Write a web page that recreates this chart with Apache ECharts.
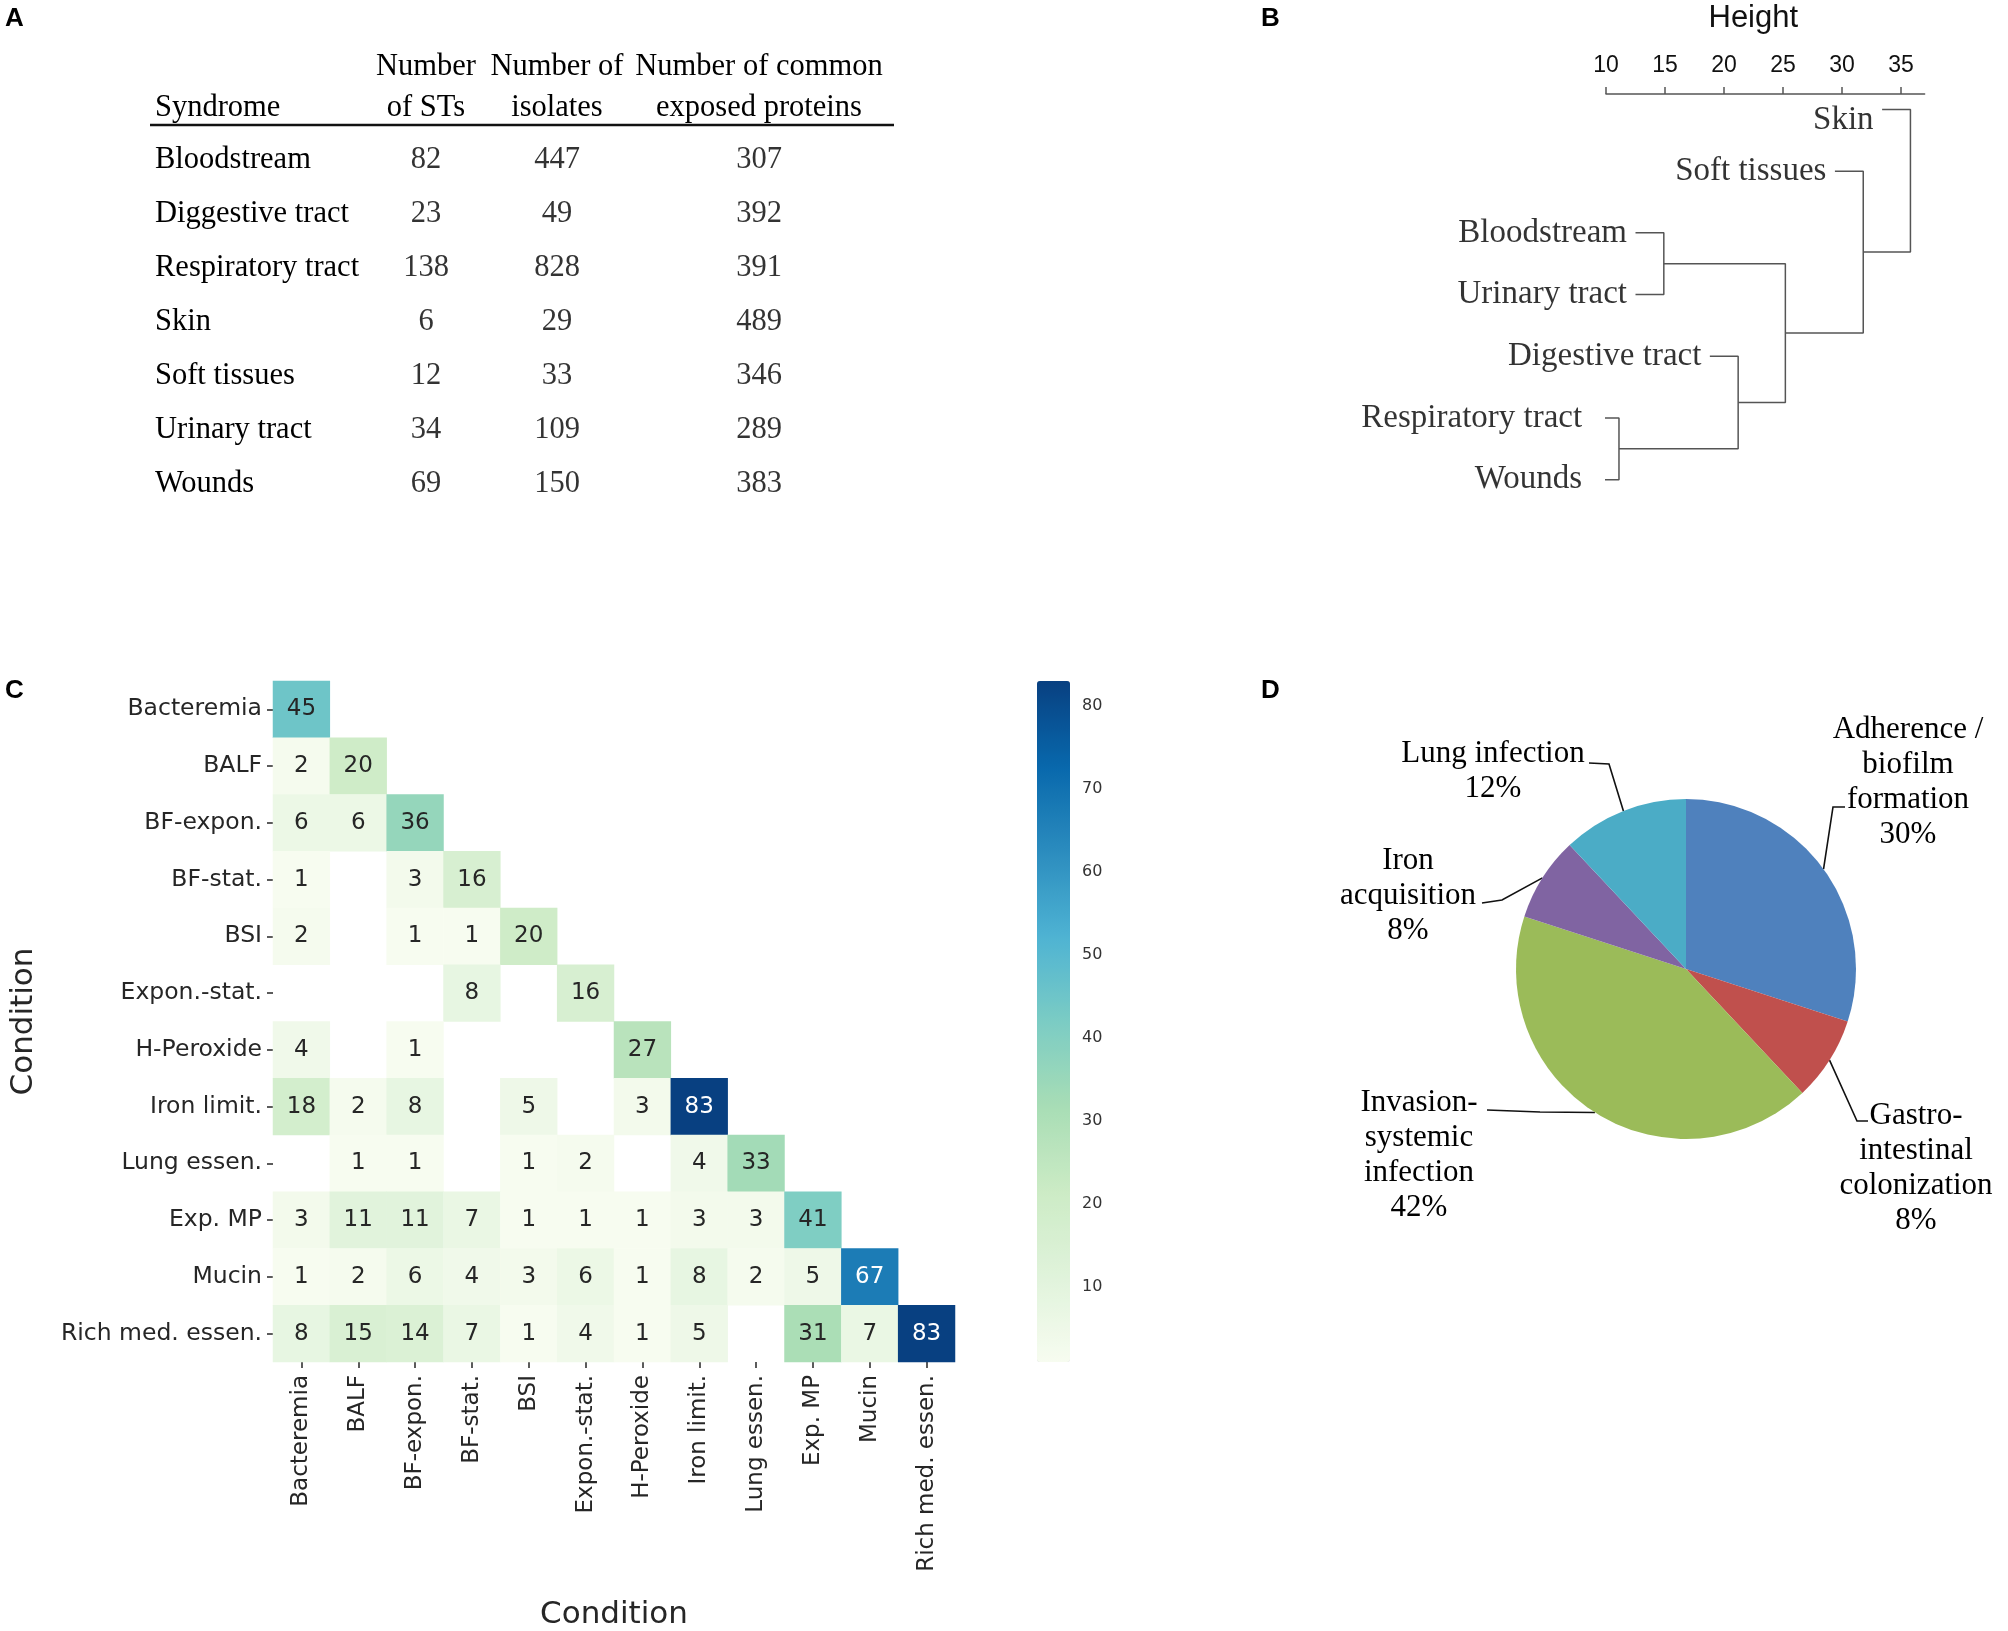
<!DOCTYPE html>
<html>
<head>
<meta charset="utf-8">
<script src="https://cdn.jsdelivr.net/npm/echarts@6/dist/echarts.min.js"></script>
<style>html,body{margin:0;padding:0;background:#fff}#c{width:2008px;height:1631px}</style>
</head>
<body>
<div id="c"></div>
<script>
// ---------- Panel A : table ----------
const syndromes = ['Bloodstream','Diggestive tract','Respiratory tract','Skin','Soft tissues','Urinary tract','Wounds'];
const stCounts = [82, 23, 138, 6, 12, 34, 69];
const isolateCounts = [447, 49, 828, 29, 33, 109, 150];
const proteinCounts = [307, 392, 391, 489, 346, 289, 383];
const tableHeaders = ['Syndrome', 'Number\nof STs', 'Number of\nisolates', 'Number of common\nexposed proteins'];

// ---------- Panel B : dendrogram ----------
const leafLabels = ['Skin','Soft tissues','Bloodstream','Urinary tract','Digestive tract','Respiratory tract','Wounds'];
// hclust-style merge steps: negative = leaf (1-based, top to bottom), positive = earlier merge step
const mergeA = [-6, -3, -5, 2, -2, -1];
const mergeB = [-7, -4, 1, 3, 4, 5];
const mergeHeights = [11.1, 14.9, 21.2, 25.2, 31.8, 35.8];
const leafHang = 2.4;
const heightTicks = [10, 15, 20, 25, 30, 35];

// ---------- Panel C : heatmap ----------
const conditions = ['Bacteremia','BALF','BF-expon.','BF-stat.','BSI','Expon.-stat.','H-Peroxide','Iron limit.','Lung essen.','Exp. MP','Mucin','Rich med. essen.'];
const overlapRows = [
  [45],
  [2, 20],
  [6, 6, 36],
  [1, null, 3, 16],
  [2, null, 1, 1, 20],
  [null, null, null, 8, null, 16],
  [4, null, 1, null, null, null, 27],
  [18, 2, 8, null, 5, null, 3, 83],
  [null, 1, 1, null, 1, 2, null, 4, 33],
  [3, 11, 11, 7, 1, 1, 1, 3, 3, 41],
  [1, 2, 6, 4, 3, 6, 1, 8, 2, 5, 67],
  [8, 15, 14, 7, 1, 4, 1, 5, null, 31, 7, 83]
];
const colorbarTicks = [10, 20, 30, 40, 50, 60, 70, 80];

// ---------- Panel D : pie ----------
const pieLabels = ['Adherence /\nbiofilm\nformation', 'Gastro-\nintestinal\ncolonization', 'Invasion-\nsystemic\ninfection', 'Iron\nacquisition', 'Lung infection'];
const pieValues = [30, 8, 42, 8, 12];

// ---------- styles / layout ----------
const pieColors = ['#4f81bd', '#c0504d', '#9bbb59', '#8064a2', '#4bacc6'];
const gnbu = ['#f7fcf0','#e0f3db','#ccebc5','#a8ddb5','#7bccc4','#4eb3d3','#2b8cbe','#0868ac','#084081'];
const serif = 'Liberation Serif', sans = 'DejaVu Sans', arial = 'Liberation Sans';
const leafLabelShift = [11, 0, 0, 0, 0, 0, 0];
const pieLabelAnchors = [[1908, 782], [1916, 1168], [1419, 1155], [1408, 896], [1493, 771]];
const pieLeaderBends = [
  [[1833, 807], [1845, 807]],
  [[1857, 1121], [1868, 1121]],
  [[1540, 1112], [1487, 1110]],
  [[1502, 900], [1482, 903]],
  [[1609, 764], [1589, 763]]
];

const grids = [], xAxes = [], yAxes = [], series = [];
const noLine = {show: false}, noSplit = {show: false};

// ----- Panel A -----
const tableTop = 133, tableRowH = 54;
const colCenters = [155, 426, 557, 759];
const colValues = [null, stCounts, isolateCounts, proteinCounts];
tableHeaders.forEach((h, c) => {
  const w = c === 0 ? 2 : 100;
  grids.push({left: colCenters[c] - w / 2, top: tableTop, width: w, height: tableRowH * syndromes.length, outerBoundsMode: 'none'});
  xAxes.push({gridIndex: c, type: 'category', position: 'top', data: [h],
    axisLine: noLine, axisTick: {show: false}, splitLine: noSplit,
    axisLabel: {interval: 0, margin: 5, align: c === 0 ? 'left' : 'center', fontFamily: serif, fontSize: 30.5, lineHeight: 41, color: '#000'}});
  yAxes.push({gridIndex: c, type: 'category', inverse: true, data: syndromes,
    axisLine: noLine, axisTick: {show: false}, splitLine: noSplit,
    axisLabel: {show: c === 0, inside: true, margin: 1, fontFamily: serif, fontSize: 30.5, color: '#000'}});
  if (c > 0) {
    series.push({type: 'scatter', xAxisIndex: c, yAxisIndex: c, symbolSize: 1, silent: true,
      itemStyle: {color: 'rgba(0,0,0,0)'},
      data: colValues[c].map((v, r) => [0, r, v]),
      label: {show: true, position: 'inside', formatter: p => String(p.value[2]), fontFamily: serif, fontSize: 30.5, color: '#000'}});
  }
});

// ----- Panel B -----
const gB = grids.length;
grids.push({left: 1606, top: 94, width: 318.6, height: 416.5, outerBoundsMode: 'none'});
xAxes.push({gridIndex: gB, type: 'value', position: 'top', min: 10, max: 37,
  axisLine: {show: true, lineStyle: {color: '#555', width: 1.5}},
  axisTick: {show: true, customValues: heightTicks, length: 7, lineStyle: {color: '#555', width: 1.5}},
  axisLabel: {customValues: heightTicks, margin: 17, fontFamily: arial, fontSize: 23, color: '#111'},
  splitLine: noSplit,
  name: 'Height', nameLocation: 'middle', nameGap: 60,
  nameTextStyle: {fontFamily: arial, fontSize: 31, color: '#111', padding: [0, 24, 0, 0]}});
yAxes.push({gridIndex: gB, type: 'value', inverse: true, min: 0.75, max: 7.5, show: false});
const mergeY = [];
const leafStart = {};
function childOf(c, H) {
  if (c < 0) { leafStart[-c] = H - leafHang; return {y: -c, h: H - leafHang}; }
  return {y: mergeY[c - 1], h: mergeHeights[c - 1]};
}
mergeA.forEach((a, k) => {
  const H = mergeHeights[k];
  const ca = childOf(a, H), cb = childOf(mergeB[k], H);
  mergeY.push((ca.y + cb.y) / 2);
  series.push({type: 'line', xAxisIndex: gB, yAxisIndex: gB, symbol: 'none', clip: false, silent: true,
    lineStyle: {color: '#555', width: 1.5},
    data: [[ca.h, ca.y], [H, ca.y], [H, cb.y], [cb.h, cb.y]]});
});
series.push({type: 'scatter', xAxisIndex: gB, yAxisIndex: gB, symbolSize: 1, clip: false, silent: true,
  itemStyle: {color: 'rgba(0,0,0,0)'},
  data: leafLabels.map((n, i) => ({value: [leafStart[i + 1], i + 1], label: {offset: [0, leafLabelShift[i]]}})),
  label: {show: true, position: 'left', distance: 8, formatter: p => leafLabels[p.dataIndex],
    fontFamily: serif, fontSize: 33, color: '#000'}});

// ----- Panel C -----
const gC = grids.length;
grids.push({left: 273, top: 681, width: 682, height: 681, outerBoundsMode: 'none'});
const heatAxisCommon = {
  type: 'category', data: conditions, gridIndex: gC,
  axisLine: noLine, splitLine: noSplit, splitArea: {show: false},
  axisTick: {show: true, alignWithLabel: true, length: 6, lineStyle: {color: '#262626', width: 1.5}},
  nameLocation: 'middle', name: 'Condition',
  nameTextStyle: {fontFamily: sans, fontSize: 31, color: '#262626'}
};
xAxes.push(Object.assign({}, heatAxisCommon, {position: 'bottom', nameGap: 237,
  axisLabel: {interval: 0, rotate: 90, margin: 13, fontFamily: sans, fontSize: 23, color: '#262626'}}));
yAxes.push(Object.assign({}, heatAxisCommon, {inverse: true, nameGap: 234,
  axisLabel: {interval: 0, margin: 11, fontFamily: sans, fontSize: 23.5, color: '#262626'}}));
const heatData = [];
overlapRows.forEach((row, r) => row.forEach((v, c) => { if (v != null) heatData.push([c, r, v]); }));
const heatIndex = series.length;
series.push({type: 'heatmap', xAxisIndex: gC, yAxisIndex: gC, data: heatData, silent: true,
  itemStyle: {borderWidth: 0},
  emphasis: {disabled: true},
  label: {show: true,
    formatter: p => (p.value[2] >= 60 ? '{w|' : '{d|') + p.value[2] + '}',
    rich: {w: {color: '#ffffff', fontFamily: sans, fontSize: 23}, d: {color: '#262626', fontFamily: sans, fontSize: 23}}}});

// colorbar axis
const gCb = grids.length;
grids.push({left: 1037, top: 681, width: 33, height: 681, outerBoundsMode: 'none'});
xAxes.push({gridIndex: gCb, type: 'value', show: false});
yAxes.push({gridIndex: gCb, type: 'value', position: 'right', min: 1, max: 83,
  axisLine: noLine, splitLine: noSplit,
  axisTick: {show: true, customValues: colorbarTicks, length: 6, lineStyle: {color: '#333', width: 1.2}},
  axisLabel: {customValues: colorbarTicks, margin: 12, fontFamily: sans, fontSize: 16, color: '#333'}});
series.push({type: 'scatter', xAxisIndex: gCb, yAxisIndex: gCb, data: [], silent: true});

// ----- Panel D -----
series.push({type: 'pie', center: [1686, 969], radius: 170, startAngle: 90, clockwise: true,
  avoidLabelOverlap: false, silent: true,
  emphasis: {disabled: true},
  data: pieLabels.map((n, i) => ({name: n, value: pieValues[i], itemStyle: {color: pieColors[i]}})),
  label: {show: true, position: 'outside', formatter: p => p.name + '\n' + p.value + '%',
    fontFamily: serif, fontSize: 31, lineHeight: 35, color: '#000'},
  labelLine: {show: true, length: 15, length2: 15, lineStyle: {color: '#111', width: 1.6}},
  labelLayout: function (p) {
    const i = p.dataIndex, a = pieLabelAnchors[i];
    const start = p.labelLinePoints ? p.labelLinePoints[0] : pieLeaderBends[i][0];
    return {x: a[0], y: a[1], align: 'center', verticalAlign: 'middle',
      labelLinePoints: [start].concat(pieLeaderBends[i])};
  }
});

const panelLetter = (t, x, y) => ({type: 'text', left: x, top: y,
  style: {text: t, fontFamily: arial, fontWeight: 'bold', fontSize: 26, fill: '#000'}});

const option = {
  animation: false,
  backgroundColor: '#ffffff',
  grid: grids,
  xAxis: xAxes,
  yAxis: yAxes,
  visualMap: {
    type: 'continuous', seriesIndex: heatIndex, min: 1, max: 83,
    left: 1037, top: 681, itemWidth: 33, itemHeight: 681, padding: 0,
    calculable: false, hoverLink: false, orient: 'vertical',
    inRange: {color: gnbu}
  },
  graphic: [
    panelLetter('A', 5, 6), panelLetter('B', 1261, 6), panelLetter('C', 5, 678), panelLetter('D', 1261, 678),
    {type: 'line', shape: {x1: 150, y1: 125, x2: 894, y2: 125}, style: {stroke: '#111', lineWidth: 2.5}}
  ],
  series: series
};
const chart = echarts.init(document.getElementById('c'), null, {width: 2008, height: 1631});
chart.setOption(option);
</script>
</body>
</html>
